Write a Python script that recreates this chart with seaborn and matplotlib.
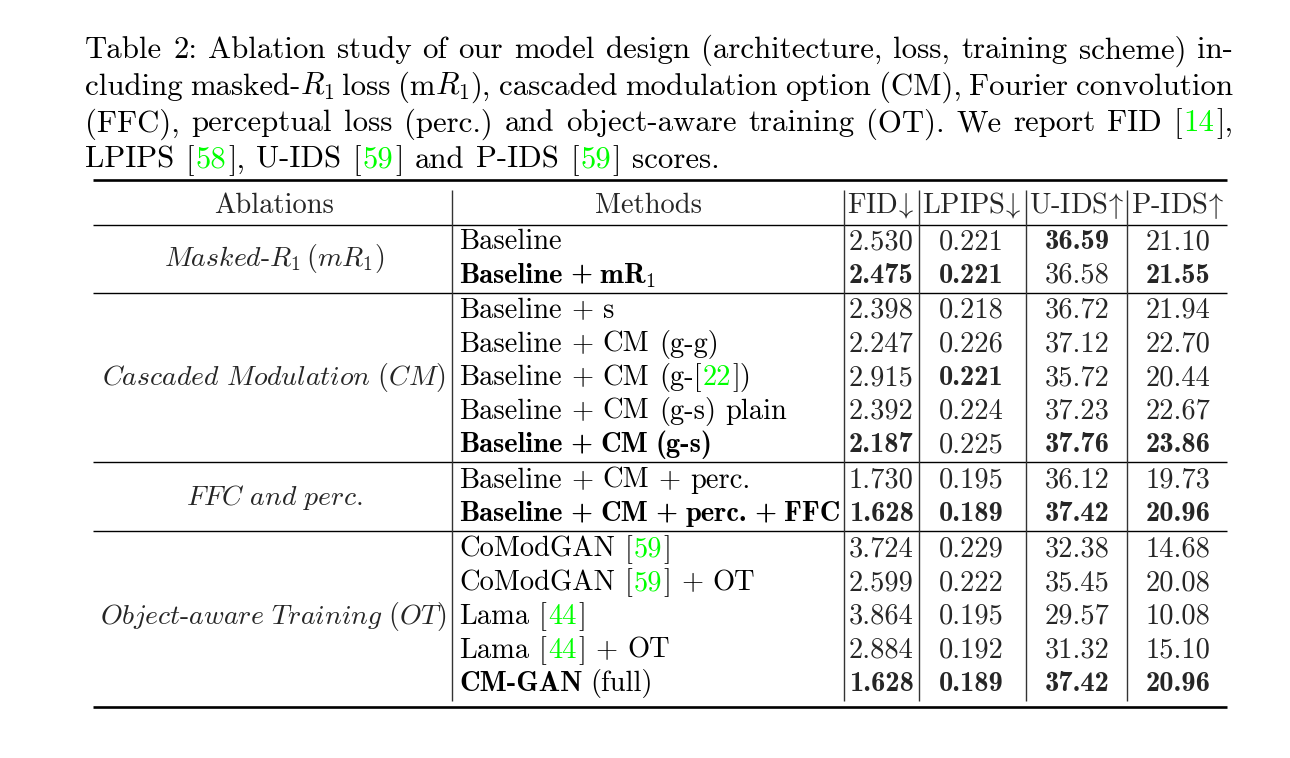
import re
import numpy as np
import matplotlib
matplotlib.use("Agg")
import matplotlib.pyplot as plt
from matplotlib.mathtext import MathTextParser
from matplotlib.font_manager import FontProperties
import seaborn as sns
import pandas as pd

# ---- data ----
# @..@ marks a green citation number, **..** marks bold words
caption_lines = [
    "Table 2: Ablation study of our model design (architecture, loss, training scheme) in-",
    "cluding masked-$R_1$ loss (m$R_1$), cascaded modulation option (CM), Fourier convolution",
    "(FFC), perceptual loss (perc.) and object-aware training (OT). We report FID [@14@],",
    "LPIPS [@58@], U-IDS [@59@] and P-IDS [@59@] scores.",
]
headers = ["Ablations", "Methods", r"FID$\!\downarrow$", r"LPIPS$\!\downarrow$",
           r"U-IDS$\!\uparrow$", r"P-IDS$\!\uparrow$"]
ablation_groups = [r"$Masked$-$R_1\,(mR_1)$", r"$Cascaded\ Modulation\ (CM)$",
                   r"$FFC\ and\ perc.$", r"$Object$-$aware\ Training\ (OT)$"]
group_sizes = [2, 5, 2, 5]
methods = [
    "Baseline",
    r"**Baseline + m$\mathbf{R_1}$**",
    "Baseline + s",
    "Baseline + CM (g-g)",
    "Baseline + CM (g-[@22@])",
    "Baseline + CM (g-s) plain",
    "**Baseline + CM (g-s)**",
    "Baseline + CM + perc.",
    "**Baseline + CM + perc. + FFC**",
    "CoModGAN [@59@]",
    "CoModGAN [@59@] + OT",
    "Lama [@44@]",
    "Lama [@44@] + OT",
    "**CM-GAN** (full)",
]
fid = [2.530, 2.475, 2.398, 2.247, 2.915, 2.392, 2.187, 1.730, 1.628, 3.724, 2.599, 3.864, 2.884, 1.628]
lpips = [0.221, 0.221, 0.218, 0.226, 0.221, 0.224, 0.225, 0.195, 0.189, 0.229, 0.222, 0.195, 0.192, 0.189]
uids = [36.59, 36.58, 36.72, 37.12, 35.72, 37.23, 37.76, 36.12, 37.42, 32.38, 35.45, 29.57, 31.32, 37.42]
pids = [21.10, 21.55, 21.94, 22.70, 20.44, 22.67, 23.86, 19.73, 20.96, 14.68, 20.08, 10.08, 15.10, 20.96]
fid_bold = [0, 1, 0, 0, 0, 0, 1, 0, 1, 0, 0, 0, 0, 1]
lpips_bold = [0, 1, 0, 0, 1, 0, 0, 0, 1, 0, 0, 0, 0, 1]
uids_bold = [1, 0, 0, 0, 0, 0, 1, 0, 1, 0, 0, 0, 0, 1]
pids_bold = [0, 1, 0, 0, 0, 0, 1, 0, 1, 0, 0, 0, 0, 1]

df = pd.DataFrame({"method": methods, "FID": fid, "LPIPS": lpips, "U-IDS": uids, "P-IDS": pids})
digits = {"FID": 3, "LPIPS": 3, "U-IDS": 2, "P-IDS": 2}
bold = {"FID": fid_bold, "LPIPS": lpips_bold, "U-IDS": uids_bold, "P-IDS": pids_bold}

# ---- style ----
sns.set_theme(style="white")
plt.rcParams["mathtext.fontset"] = "cm"
plt.rcParams["font.family"] = ["cmr10", "DejaVu Serif"]
CITE = "#00ff00"
REG, BOLD = "cmr10", "cmb10"
CAP_FS, TAB_FS, ABL_FS = 22.2, 20.5, 20.0
PX = 100 / 72
SEG_GAP = 1.5

fig = plt.figure(figsize=(12.9, 7.58), dpi=100)
ax = fig.add_axes([0, 0, 1, 1])
ax.set_xlim(0, 1290)
ax.set_ylim(758, 0)
ax.axis("off")
renderer = fig.canvas.get_renderer()
mt = MathTextParser("agg")


def math_ink(s, fs):
    # left/right ink columns of a mathtext raster (its bbox has padding)
    r = mt.parse(s, dpi=100, prop=FontProperties(size=fs))
    img = np.asarray(r.image)
    cols = np.nonzero(img.max(axis=0) > 0)[0]
    return cols[0], cols[-1] + 1


def parts(word):
    out = []
    for p in re.split(r"(@[^@]*@|\$[^$]*\$)", word):
        if p:
            out.append((p[1:-1], CITE) if p.startswith("@") else (p, "black"))
    return out


def draw_word(x, y, word, fs, family, draw=True):
    segs = parts(word)
    for k, (txt, col) in enumerate(segs):
        if k:
            x += SEG_GAP
        if txt.startswith("$"):
            lead, tail = math_ink(txt, fs)
            if draw:
                ax.text(x - lead, y, txt, fontsize=fs, family=family, color=col,
                        va="baseline", ha="left")
            x += tail - lead
        else:
            t = ax.text(x, y, txt, fontsize=fs, family=family, color=col, va="baseline", ha="left")
            x += t.get_window_extent(renderer).width
            if not draw:
                t.remove()
    return x


def word_width(word, fs, family):
    return draw_word(0, 0, word, fs, family, draw=False)


def tokens(line):
    # split into (word, bold) pairs, '**' toggles bold
    out, b = [], False
    for w in line.split(" "):
        if w.startswith("**"):
            w, b = w[2:], True
        end = w.endswith("**")
        if end:
            w = w[:-2]
        out.append((w, b))
        if end:
            b = False
    return out


def draw_line(x, y, line, fs, space_em=0.333, justify_to=None):
    toks = tokens(line)
    space = space_em * fs * PX
    widths = [word_width(w, fs, BOLD if b else REG) for w, b in toks]
    if justify_to is not None and len(toks) > 1:
        space = (justify_to - x - sum(widths)) / (len(toks) - 1)
    for (w, b), wd in zip(toks, widths):
        draw_word(x, y, w, fs, BOLD if b else REG)
        x += wd + (0.27 * fs * PX if b else space)


# ---- caption ----
cap_x0, cap_x1, cap_y0, cap_dy = 85, 1233, 58.3, 36.5
for k, line in enumerate(caption_lines):
    draw_line(cap_x0, cap_y0 + k * cap_dy, line, CAP_FS, space_em=0.37,
              justify_to=cap_x1 if k < len(caption_lines) - 1 else None)

# ---- table layout ----
left, right = 93, 1227
col_lines = [452, 843.5, 918.5, 1025.5, 1127]
num_centers = {"FID": 881, "LPIPS": 971.5, "U-IDS": 1077, "P-IDS": 1178}
abl_center, meth_left, meth_center = 274, 459, 648
row0, row_h, gap, base_off = 240, 33.6, 1.8, 9

grp = [g for g, n in enumerate(group_sizes) for _ in range(n)]
row_y = [row0 + i * row_h + gap * g for i, g in enumerate(grp)]

# rules
ax.hlines(180, left, right, color="black", lw=1.9)
ax.hlines(224.5, left, right, color="black", lw=1.0)
ends = [sum(group_sizes[:g + 1]) - 1 for g in range(len(group_sizes))]
for e in ends[:-1]:
    ax.hlines(row_y[e] + 19, left, right, color="black", lw=1.0)
ax.hlines(row_y[-1] + 24.5, left, right, color="black", lw=1.9)
ax.vlines(col_lines, 190, row_y[-1] + 19, color="#333333", lw=1.0)

# header
hy = 213
ax.text(abl_center, hy, headers[0], fontsize=TAB_FS, family=REG, ha="center", va="baseline")
ax.text(meth_center, hy, headers[1], fontsize=TAB_FS, family=REG, ha="center", va="baseline")
for h, c in zip(headers[2:], num_centers):
    ax.text(num_centers[c], hy, h, fontsize=TAB_FS, family=REG, ha="center", va="baseline")

# ablation group labels
start = 0
for label, n in zip(ablation_groups, group_sizes):
    yc = (row_y[start] + row_y[start + n - 1]) / 2
    ax.text(abl_center, yc + base_off, label, fontsize=ABL_FS, family=REG, ha="center", va="baseline")
    start += n

# rows
for i, row in df.iterrows():
    yb = row_y[i] + base_off
    draw_line(meth_left, yb, row["method"], TAB_FS)
    for c in num_centers:
        ax.text(num_centers[c], yb, f"{row[c]:.{digits[c]}f}", fontsize=TAB_FS,
                family=BOLD if bold[c][i] else REG, ha="center", va="baseline")

fig.savefig("out.png", dpi=100, facecolor="white")
